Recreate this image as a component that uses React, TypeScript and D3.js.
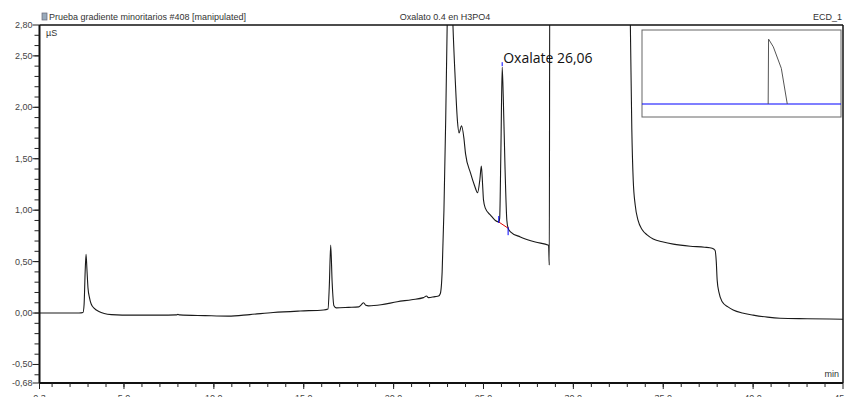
import React from "react";
import * as d3 from "d3";

// ---- Data ----
const times = [
  0.3, 1.5, 2.5, 2.72, 2.78, 2.84, 2.89, 2.94, 3.0, 3.08, 3.17, 3.35, 3.6, 3.9, 4.3, 5.5, 7.0, 7.9, 8.0, 8.1,
  9.5, 10.8, 12.0, 13.3, 14.8, 16.1, 16.35, 16.42, 16.5, 16.58, 16.68, 16.8, 17.5, 18.06, 18.2, 18.33, 18.45,
  18.61, 19.3, 20.2, 21.0, 21.66, 21.83, 21.94, 22.3, 22.5, 22.6, 22.7, 22.8, 22.9, 22.98, 23.05, 23.2, 23.3,
  23.42, 23.55, 23.64, 23.78, 23.91, 24.0, 24.28, 24.5, 24.67, 24.8, 24.88, 24.95, 25.0, 25.1, 25.4, 25.66,
  25.85, 25.9, 25.97, 26.04, 26.1, 26.2, 26.3, 26.37, 26.5, 27.05, 27.88, 28.62, 28.66, 28.69, 33.1, 33.17,
  33.25, 33.33, 33.44, 33.6, 33.83, 34.1, 34.44, 35.0, 35.56, 36.5, 37.3, 37.72, 37.88, 37.95, 38.0, 38.1,
  38.28, 38.6, 38.89, 39.4, 40.0, 40.8, 41.5, 43.0, 45.0,
];
const signal = [
  0.0, 0.0, 0.0, 0.005, 0.08, 0.4, 0.57, 0.42, 0.24, 0.15, 0.09, 0.045, 0.015, -0.005, -0.015, -0.02, -0.02,
  -0.018, -0.013, -0.018, -0.025, -0.03, -0.015, 0.005, 0.02, 0.03, 0.04, 0.25, 0.66, 0.3, 0.07, 0.05, 0.055,
  0.06, 0.08, 0.1, 0.075, 0.07, 0.08, 0.11, 0.13, 0.15, 0.165, 0.15, 0.16, 0.165, 0.19, 0.4, 1.0, 1.9, 2.8,
  3.4, 3.4, 2.8, 2.3, 1.87, 1.75, 1.82, 1.7, 1.55, 1.36, 1.24, 1.17, 1.3, 1.43, 1.25, 1.1, 1.02, 0.95, 0.9,
  0.885, 0.92, 1.6, 2.39, 2.1, 1.4, 0.9, 0.825, 0.79, 0.74, 0.69, 0.66, 0.466, 3.5, 3.5, 2.8, 1.8, 1.29,
  1.05, 0.9, 0.81, 0.76, 0.72, 0.69, 0.67, 0.65, 0.64, 0.63, 0.61, 0.5, 0.32, 0.2, 0.11, 0.06, 0.03, 0.0,
  -0.02, -0.04, -0.05, -0.055, -0.06,
];

const xTickLabels = [0.3, 5, 10, 15, 20, 25, 30, 35, 40, 45];
const xMinorTicks = d3.range(1, 45, 1);
const yTickLabels = [2.8, 2.5, 2.0, 1.5, 1.0, 0.5, 0.0, -0.5, -0.68];
const yMinorTicks = d3.range(-6, 28, 1).map((d) => d / 10);

const peakName = "Oxalate";
const peakRT = 26.06;
const peakApex = [26.04, 2.39];
const peakStart = [25.85, 0.885];
const peakEnd = [26.37, 0.825];

const titleLeft = "Prueba gradiente minoritarios #408 [manipulated]";
const titleCenter = "Oxalato 0.4 en H3PO4";
const titleRight = "ECD_1";
const yUnit = "µS";
const xUnit = "min";

// inset (zoomed view) data
const insetX = [0, 0.3, 0.5, 0.634, 0.636, 0.66, 0.7, 0.73, 0.8, 1.0];
const insetY = [0, 0, 0, 0, 1.0, 0.88, 0.55, 0, 0, 0];
const insetTrace = [false, false, false, true, true, true, true, true, false, false];

const W = 845;
const H = 397;
const M = { left: 39.5, right: 843, top: 25, bottom: 383 };

const fmt = (v: number, digits: number) => v.toFixed(digits).replace(".", ",");

export default function App() {
  const x = d3.scaleLinear().domain([0.3, 45]).range([M.left, M.right]);
  const y = d3.scaleLinear().domain([-0.68, 2.8]).range([M.bottom, M.top]);
  const pts = times.map((t, i) => [t, signal[i]] as [number, number]);
  const line = d3
    .line<[number, number]>()
    .x((d) => x(d[0]))
    .y((d) => y(d[1]))
    .curve(d3.curveMonotoneX);

  // inset
  const ib = { x0: 642, x1: 841, y0: 30, y1: 117 };
  const ix = d3.scaleLinear().domain([0, 1]).range([ib.x0, ib.x1]);
  const iy = d3.scaleLinear().domain([-0.2, 1.14]).range([ib.y1, ib.y0]);
  const ipts = insetX.map((t, i) => [t, insetY[i]] as [number, number]).filter((_, i) => insetTrace[i]);
  const iline = d3
    .line<[number, number]>()
    .x((d) => ix(d[0]))
    .y((d) => iy(d[1]));

  const font = "'Liberation Sans', Arial, sans-serif";

  return (
    <svg
      width={W}
      height={H}
      style={{ position: "absolute", left: 0, top: 0, background: "#fff" }}
      fontFamily={font}
    >
      <defs>
        <clipPath id="plotClip">
          <rect x={M.left} y={M.top} width={M.right - M.left} height={M.bottom - M.top} />
        </clipPath>
      </defs>

      {/* header */}
      <rect x={42} y={13} width={5} height={7} fill="#9ab" stroke="#667" strokeWidth={0.7} />
      <text x={49} y={20} fontSize={9} fill="#333">
        {titleLeft}
      </text>
      <text x={445} y={20} fontSize={9} fill="#333" textAnchor="middle">
        {titleCenter}
      </text>
      <text x={842} y={20} fontSize={9} fill="#333" textAnchor="end">
        {titleRight}
      </text>

      {/* trace */}
      <g clipPath="url(#plotClip)">
        <path d={line(pts) || ""} fill="none" stroke="#1a1a1a" strokeWidth={1.1} />
      </g>

      {/* peak integration markers */}
      <line
        x1={x(peakStart[0])}
        y1={y(peakStart[1])}
        x2={x(peakEnd[0])}
        y2={y(peakEnd[1])}
        stroke="#e00000"
        strokeWidth={1}
      />
      <line
        x1={x(peakStart[0])}
        x2={x(peakStart[0])}
        y1={y(peakStart[1]) - 6}
        y2={y(peakStart[1]) + 1}
        stroke="#0000ff"
        strokeWidth={1}
      />
      <line
        x1={x(peakEnd[0])}
        x2={x(peakEnd[0])}
        y1={y(peakEnd[1]) - 1}
        y2={y(peakEnd[1]) + 7}
        stroke="#0000ff"
        strokeWidth={1}
      />
      <line
        x1={x(peakApex[0])}
        x2={x(peakApex[0])}
        y1={y(peakApex[1]) - 5}
        y2={y(peakApex[1]) - 1}
        stroke="#0000ff"
        strokeWidth={1}
      />
      <text
        x={x(peakApex[0]) + 1}
        y={y(peakApex[1]) - 4}
        fontSize={14}
        fontFamily="'Open Sans', sans-serif"
        fill="#111"
      >
        {peakName} {fmt(peakRT, 2)}
      </text>

      {/* inset */}
      <rect
        x={ib.x0}
        y={ib.y0}
        width={ib.x1 - ib.x0}
        height={ib.y1 - ib.y0}
        fill="#fff"
        stroke="#666"
        strokeWidth={1}
      />
      <line x1={ix(0)} x2={ix(1)} y1={iy(0)} y2={iy(0)} stroke="#0000ff" strokeWidth={1.2} />
      <path d={iline(ipts) || ""} fill="none" stroke="#555" strokeWidth={1} />

      {/* frame */}
      <line x1={M.left} x2={M.right} y1={M.top} y2={M.top} stroke="#111" strokeWidth={1.5} />
      <line x1={M.right} x2={M.right} y1={M.top} y2={M.bottom} stroke="#111" strokeWidth={1.5} />
      <line x1={M.left} x2={M.left} y1={M.top} y2={M.bottom} stroke="#111" strokeWidth={2} />
      <line x1={M.left} x2={M.right} y1={M.bottom} y2={M.bottom} stroke="#111" strokeWidth={2} />

      {/* y ticks */}
      {yMinorTicks.map((v) => (
        <line key={"ym" + v} x1={M.left - 5} x2={M.left} y1={y(v)} y2={y(v)} stroke="#222" strokeWidth={1} />
      ))}
      {yTickLabels.map((v) => (
        <g key={"y" + v}>
          <line x1={M.left - 7} x2={M.left} y1={y(v)} y2={y(v)} stroke="#222" strokeWidth={1} />
          <text x={M.left - 7} y={y(v) + 3} fontSize={9} fill="#444" textAnchor="end">
            {fmt(v, 2)}
          </text>
        </g>
      ))}
      <text x={46} y={36} fontSize={9} fill="#333">
        {yUnit}
      </text>

      {/* x ticks */}
      {xMinorTicks.map((v) => (
        <line key={"xm" + v} x1={x(v)} x2={x(v)} y1={M.bottom} y2={M.bottom + 4} stroke="#222" strokeWidth={1} />
      ))}
      {xTickLabels.map((v) => (
        <g key={"x" + v}>
          <line x1={x(v)} x2={x(v)} y1={M.bottom} y2={M.bottom + 6} stroke="#222" strokeWidth={1} />
          <text x={x(v)} y={M.bottom + 18} fontSize={9} fill="#444" textAnchor="middle">
            {fmt(v, 1)}
          </text>
        </g>
      ))}
      <text x={839} y={377} fontSize={9} fill="#333" textAnchor="end">
        {xUnit}
      </text>
    </svg>
  );
}
